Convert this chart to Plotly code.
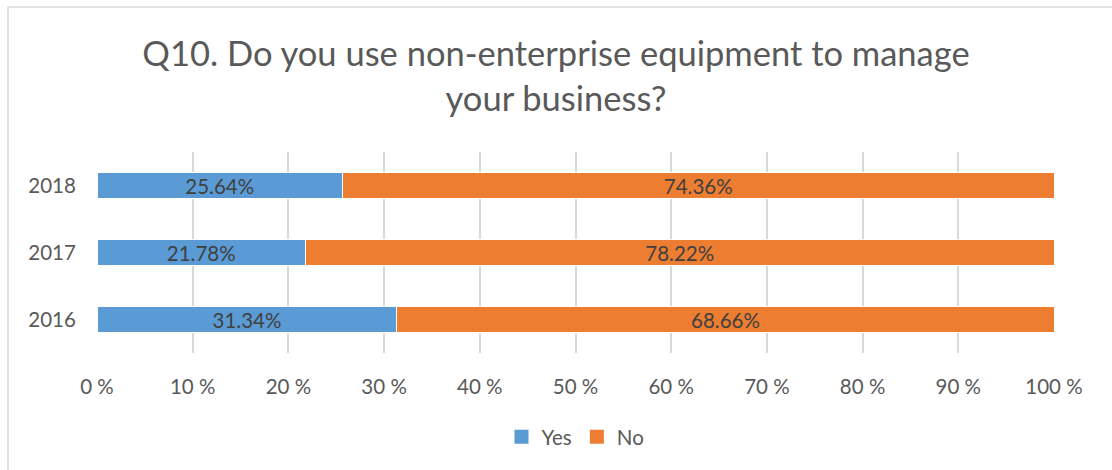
import plotly.graph_objects as go

# Survey responses by year (percent of respondents)
years = ["2016", "2017", "2018"]
yes_pct = [31.34, 21.78, 25.64]
no_pct = [68.66, 78.22, 74.36]
tick_vals = [0, 10, 20, 30, 40, 50, 60, 70, 80, 90, 100]
tick_text = [f"{v} %" for v in tick_vals]

FONT = "Lato, Calibri, sans-serif"
BLUE = "#5B9BD5"
ORANGE = "#ED7D31"

fig = go.Figure()
for name, vals, color in [("Yes", yes_pct, BLUE), ("No", no_pct, ORANGE)]:
    fig.add_trace(go.Bar(
        y=years, x=vals, name=name, orientation="h", showlegend=False,
        legendgroup=name,
        marker=dict(color=color, line=dict(color="white", width=1)),
        texttemplate="%{x:.2f}%", textposition="inside", insidetextanchor="middle",
        constraintext="none",
        textfont=dict(color="#404040", size=20.5, family=FONT),
    ))
    # legend entry with a larger square swatch
    fig.add_trace(go.Scatter(
        x=[None], y=[None], mode="markers", name=name, legendgroup=name,
        marker=dict(symbol="square", size=14, color=color),
        showlegend=True, hoverinfo="skip",
    ))

fig.update_layout(
    width=1112, height=470,
    barmode="stack", bargap=0.6,
    paper_bgcolor="white", plot_bgcolor="white",
    margin=dict(l=97, r=58, t=152, b=117),
    font=dict(family=FONT, color="#595959", size=20),
    title=dict(
        text="Q10. Do you use non-enterprise equipment to manage<br>your business?",
        x=0.5, xanchor="center", y=1 - 66 / 470, yanchor="middle",
        font=dict(size=34.5, color="#595959", family=FONT),
    ),
    xaxis=dict(
        range=[0, 100], tickvals=tick_vals, ticktext=tick_text,
        showgrid=True, gridcolor="#D9D9D9", gridwidth=2,
        zeroline=False, showline=False,
        ticks="outside", ticklen=15, tickcolor="rgba(0,0,0,0)",
        tickfont=dict(size=20.5, color="#595959"),
    ),
    yaxis=dict(
        type="category", categoryorder="array", categoryarray=years,
        range=[-0.5, 2.5], showgrid=False, zeroline=False, showline=False,
        ticks="outside", ticklen=16, tickcolor="rgba(0,0,0,0)",
        tickfont=dict(size=20.5, color="#595959"),
    ),
    legend=dict(
        orientation="h", x=0.5, xanchor="center",
        yref="container", y=(470 - 437) / 470, yanchor="middle",
        traceorder="normal", itemwidth=30,
        font=dict(size=20.5, color="#595959"),
    ),
    showlegend=True,
)

# Chart frame
fig.add_shape(
    type="rect", xref="paper", yref="paper",
    x0=(8 - 97) / (1112 - 97 - 58), x1=1.2,
    y0=-1, y1=1 + (152 - 7) / (470 - 152 - 117),
    line=dict(color="#D9D9D9", width=1.5), layer="below",
)

fig.write_html("out.html")
